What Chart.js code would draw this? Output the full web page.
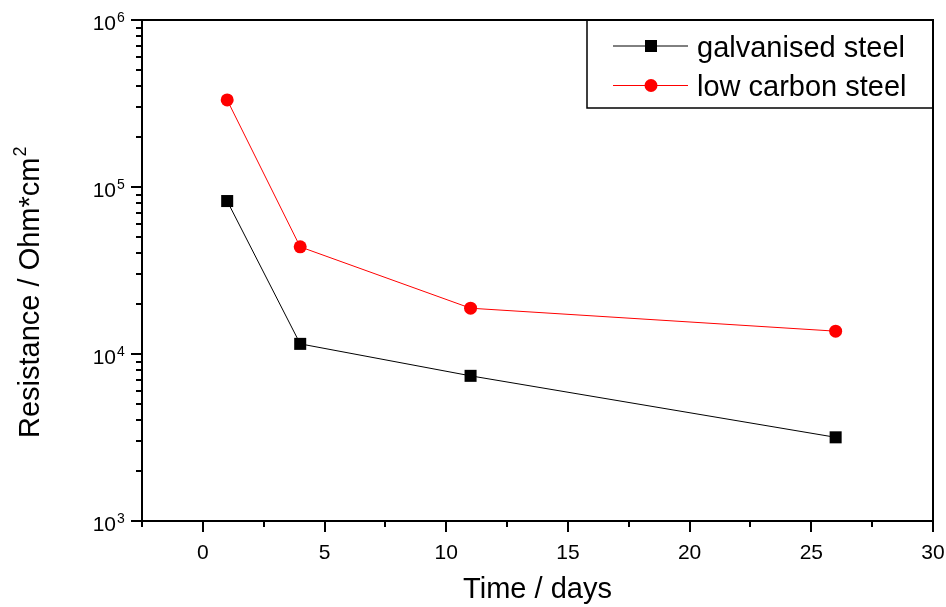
<!DOCTYPE html>
<html>
<head>
<meta charset="utf-8">
<script src="https://cdn.jsdelivr.net/npm/chart.js@4"></script>
<style>
    body { margin: 0; background: #fff; }
</style>
</head>
<body>
<canvas id="resistancePlot" width="946" height="607"></canvas>
<script>
// Values
var days = [1, 4, 11, 26];
var galvanised = [82400, 11500, 7400, 3170];
var lowCarbon = [332000, 43800, 18800, 13700];

var xMajorTicks = [0, 5, 10, 15, 20, 25, 30];
var xMinorTicks = [-2.5, 2.5, 7.5, 12.5, 17.5, 22.5, 27.5];
var yDecades = [3, 4, 5, 6];
var yMinorSteps = [2, 3, 4, 5, 6, 7, 8, 9];

var FONT = "'Liberation Sans', Arial, sans-serif";

function _points(xs, ys)
{
    var pts = [];
    for (var i = 0; i < xs.length; i++)
        pts.push({x: xs[i], y: ys[i]});
    return pts;
}

// Frame, outward ticks, power-of-ten labels, y title and legend
var originStyle = {
    id: 'originStyle',
    afterDraw: function(chart) {
        var ctx = chart.ctx;
        var area = chart.chartArea;
        var xs = chart.scales.x;
        var ys = chart.scales.y;
        var i, j, px, py;

        ctx.save();
        ctx.strokeStyle = '#000';
        ctx.lineWidth = 2;
        ctx.strokeRect(area.left, area.top, area.right - area.left, area.bottom - area.top);

        ctx.beginPath();
        for (i = 0; i < xMajorTicks.length; i++) {
            px = Math.round(xs.getPixelForValue(xMajorTicks[i]));
            ctx.moveTo(px, area.bottom);
            ctx.lineTo(px, area.bottom + 11);
        }
        for (i = 0; i < xMinorTicks.length; i++) {
            px = Math.round(xs.getPixelForValue(xMinorTicks[i]));
            ctx.moveTo(px, area.bottom);
            ctx.lineTo(px, area.bottom + 6);
        }
        for (i = 0; i < yDecades.length; i++) {
            py = Math.round(ys.getPixelForValue(Math.pow(10, yDecades[i])));
            ctx.moveTo(area.left, py);
            ctx.lineTo(area.left - 11, py);
            if (i < yDecades.length - 1) {
                for (j = 0; j < yMinorSteps.length; j++) {
                    py = Math.round(ys.getPixelForValue(yMinorSteps[j] * Math.pow(10, yDecades[i])));
                    ctx.moveTo(area.left, py);
                    ctx.lineTo(area.left - 6, py);
                }
            }
        }
        ctx.stroke();

        // 10^n labels
        ctx.fillStyle = '#000';
        for (i = 0; i < yDecades.length; i++) {
            py = ys.getPixelForValue(Math.pow(10, yDecades[i]));
            ctx.font = '21px ' + FONT;
            ctx.textAlign = 'right';
            ctx.textBaseline = 'alphabetic';
            ctx.fillText('10', 116, py + 10);
            ctx.font = '14px ' + FONT;
            ctx.textAlign = 'left';
            ctx.fillText(String(yDecades[i]), 117, py + 2);
        }

        // y title
        ctx.save();
        ctx.translate(39, 438);
        ctx.rotate(-Math.PI / 2);
        ctx.font = '29px ' + FONT;
        ctx.textAlign = 'left';
        ctx.textBaseline = 'alphabetic';
        var yTitle = 'Resistance / Ohm*cm';
        ctx.fillText(yTitle, 0, 0);
        var w = ctx.measureText(yTitle).width;
        ctx.font = '18px ' + FONT;
        ctx.fillText('2', w + 1, -13);
        ctx.restore();

        // legend
        var box = {left: 587, top: area.top, right: area.right, bottom: 108};
        ctx.lineWidth = 1.5;
        ctx.strokeRect(box.left, box.top, box.right - box.left, box.bottom - box.top);
        var rows = [46, 85.5];
        chart.data.datasets.forEach(function(ds, k) {
            var y = rows[k];
            ctx.strokeStyle = ds.borderColor;
            ctx.lineWidth = 1;
            ctx.beginPath();
            ctx.moveTo(613, y);
            ctx.lineTo(688, y);
            ctx.stroke();
            ctx.fillStyle = ds.pointBackgroundColor;
            if (ds.pointStyle === 'rect') {
                ctx.fillRect(645, y - 6, 12, 12);
            } else {
                ctx.beginPath();
                ctx.arc(651, y, 6.5, 0, 2 * Math.PI);
                ctx.fill();
            }
            ctx.fillStyle = '#000';
            ctx.font = '29px ' + FONT;
            ctx.textAlign = 'left';
            ctx.textBaseline = 'alphabetic';
            ctx.fillText(ds.label, 697, y + 10.5);
        });
        ctx.restore();
    }
};

new Chart(document.getElementById("resistancePlot"), {
    type: "line",
    data: {
        datasets: [{
            label: 'galvanised steel',
            data: _points(days, galvanised),
            borderColor: '#000',
            borderWidth: 1,
            pointStyle: 'rect',
            pointRadius: 8.5,
            pointBackgroundColor: '#000',
            pointBorderWidth: 0,
            fill: false
        }, {
            label: 'low carbon steel',
            data: _points(days, lowCarbon),
            borderColor: '#ff0000',
            borderWidth: 1,
            pointStyle: 'circle',
            pointRadius: 6.5,
            pointBackgroundColor: '#ff0000',
            pointBorderWidth: 0,
            fill: false
        }]
    },
    options: {
        responsive: false,
        devicePixelRatio: 1,
        animation: false,
        layout: {
            padding: {top: 20, right: 13, left: 0, bottom: 0}
        },
        plugins: {
            legend: {display: false},
            tooltip: {enabled: false}
        },
        scales: {
            x: {
                type: 'linear',
                min: -2.5,
                max: 30,
                afterBuildTicks: function(scale) {
                    scale.ticks = xMajorTicks.map(function(v) { return {value: v}; });
                },
                afterFit: function(scale) {
                    scale.height = 86;
                    scale.paddingLeft = 0;
                    scale.paddingRight = 0;
                },
                grid: {display: false, drawTicks: false},
                border: {display: false},
                ticks: {
                    color: '#000',
                    font: {family: FONT, size: 21},
                    padding: 20,
                    maxRotation: 0,
                    autoSkip: false
                },
                title: {
                    display: true,
                    text: 'Time / days',
                    color: '#000',
                    font: {family: FONT, size: 29},
                    padding: {top: 0, bottom: 0}
                }
            },
            y: {
                type: 'logarithmic',
                min: 1000,
                max: 1000000,
                afterFit: function(scale) {
                    scale.width = 142;
                    scale.paddingTop = 0;
                    scale.paddingBottom = 0;
                },
                grid: {display: false, drawTicks: false},
                border: {display: false},
                ticks: {display: false}
            }
        }
    },
    plugins: [originStyle]
});
</script>
</body>
</html>
